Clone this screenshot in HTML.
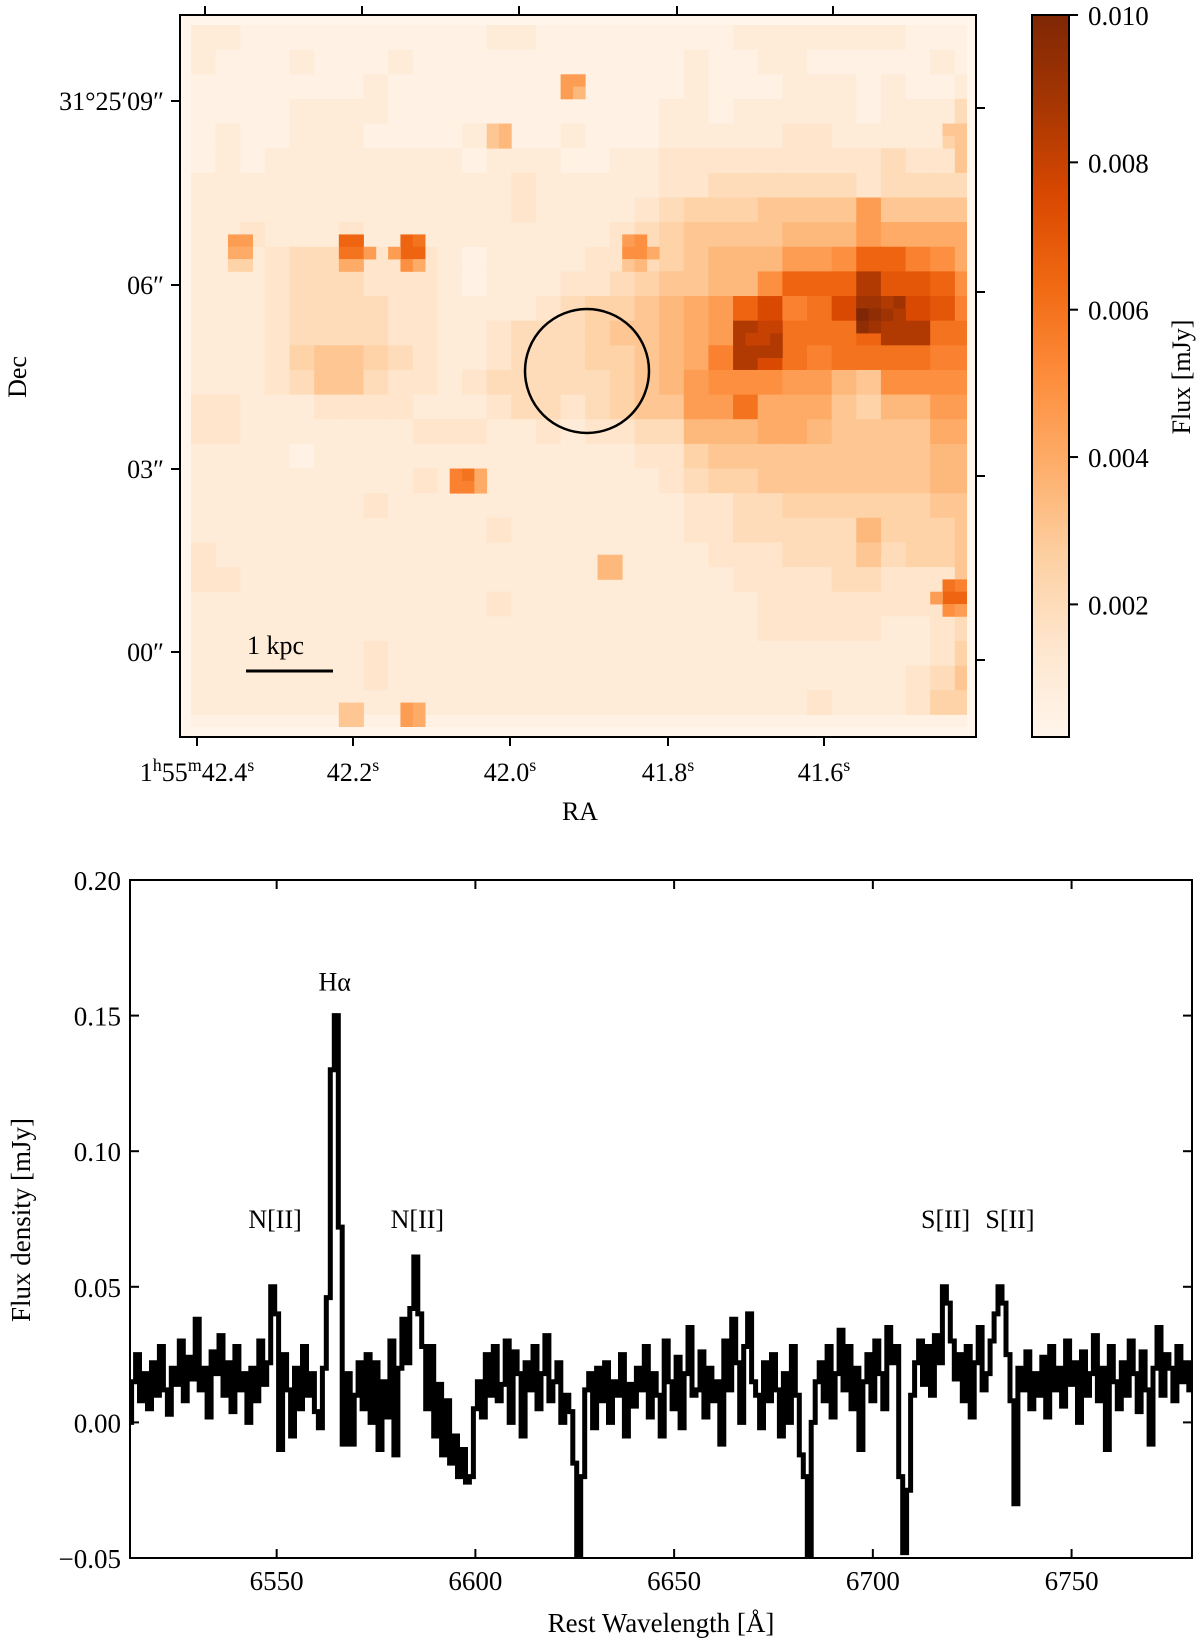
<!DOCTYPE html>
<html><head><meta charset="utf-8"><title>Flux map and spectrum</title>
<style>
html,body{margin:0;padding:0;background:#fff;}
svg{display:block;font-family:"Liberation Serif",serif;}
</style></head>
<body>
<svg id="fig" width="1200" height="1642" viewBox="0 0 1200 1642" xmlns="http://www.w3.org/2000/svg">
<defs>
<clipPath id="mapclip"><rect x="191" y="25" width="776" height="702"/></clipPath>
<clipPath id="specclip"><rect x="130" y="880" width="1062" height="678"/></clipPath>
<linearGradient id="cbgrad" x1="0" y1="1" x2="0" y2="0"></linearGradient>
</defs>
<g id="map">
<rect x="180" y="15" width="796" height="722" fill="#fff5eb"/>
<g id="cells" clip-path="url(#mapclip)"></g>
</g>
<g id="overlay"></g>
</svg>
<script>
// ---------- Heatmap data ----------
// coarse grid: 32 cols x 29 rows, base-20 chars, value = idx * 0.0005 mJy
const mapRows = [
"22111111 11112211 11111122 22222111",
"21112111 21111111 11112112 21111121",
"11111112 11111111 11112111 22212112",
"11112222 11111111 11122122 22212224",
"12112221 11121112 11122222 33222226",
"12122222 22212221 12233333 33334336",
"22222222 22222322 22233444 44434444",
"22222222 22222322 22345556 66696666",
"22322232 22222222 23456666 77798888",
"22234433 33212222 33456777 99addba8",
"22234443 33212223 3456677a dddheeda",
"22234444 33222234 556789df bcfjifeb",
"22234444 33223444 566789hg cccdhhcc",
"22235665 43223444 55678bhf cbccccbb",
"22234664 33234444 45679aaa 9976aaaa",
"33222333 32223443 456699c8 88657799",
"33222222 23332232 33447778 87666688",
"22221222 22222222 22335666 66666677",
"22222222 23222222 22234556 66666677",
"22222223 22222222 22223344 55555566",
"22222222 22223222 22223344 44475556",
"32222222 22222222 22222333 44464556",
"33222222 22222222 22222233 33443336",
"22222222 22223222 22222223 33333334",
"22222222 22222222 22222223 33332234",
"22222223 22222222 22222222 22222235",
"22222223 22222222 22222222 22222346",
"22222222 22222222 22222222 23222355",
"11111111 11111111 11111111 11111111"
];
// fine-pixel bright spots: column index, row index, flux (0.001 mJy)
const spotCols = [3,4,3,4,3,4, 12,13,12,13,14,12,13, 17,18,17,18,16,17,18, 35,36,35,36,37,35,36, 30,31,30,31, 24,25,24,25, 21,22,23,21,22,23, 33,34,33,34, 61,62,61,62,60,61,62, 12,13,12,13,17,18,17,18, 61,62,61,62, 54,55,54,55,54,55,56,57,56, 45,46,45,47,47,47, 54,55];
const spotRows = [17,17,18,18,19,19, 17,17,18,18,18,19,19, 17,17,18,18,18,19,19, 17,17,18,18,18,19,19, 4,4,5,5, 8,8,9,9, 36,36,36,37,37,37, 43,43,44,44, 45,45,46,46,46,47,47, 55,55,56,56,55,55,56,56, 8,8,9,9, 22,22,23,23,24,24,23,23,22, 26,26,25,25,26,24, 42,42];
const spotVals = [4.5,4.5,4,4,2.5,2.5, 6.5,6.5,6,6,4.5,4,4, 6.5,6,6.5,6.5,4.5,5,4, 4.5,5,5,5,4,3,3.5, 4.5,4.5,4.5,3.5, 3,3.5,3,3.5, 5.5,6,4,5.5,5.5,4, 3.5,3.5,3.5,3.5, 6,5.5,6.5,6.5,4.5,5,4.5, 3,3,3,3,4.5,4,4.5,4, 3,3,2.5,3, 9,9,10,9.5,9.5,9,9,8.5,8.5, 8.5,8.5,8,8.5,8.5,8, 3,3];
const cbTicks = [0.002,0.004,0.006,0.008,0.010];
const decTickLabels = ["31°25′09″","06″","03″","00″"];
const raTickLabels = [["1","h","55","m","42.4","s"],["42.2","s"],["42.0","s"],["41.8","s"],["41.6","s"]];

// ---------- Spectrum data ----------
const specStart = 6513; // Å, 1 Å sampling
const fluxE3 = [ // flux density in 0.001 mJy
0,15,25,8,18,5,22,10,28,12,
3,20,14,30,8,24,16,38,12,20,
2,26,18,32,10,22,4,28,12,18,
0,20,8,30,14,22,50,40,-10,25,
12,-5,20,5,28,10,18,4,-2,20,
46,130,150,72,-8,18,-8,10,22,5,
25,0,22,-10,15,2,30,-12,20,38,
22,42,61,40,28,5,28,-5,14,-12,
8,-15,-5,-20,-10,-22,-20,5,15,2,
25,10,28,8,14,30,0,26,18,-5,
22,12,28,5,18,32,8,15,22,0,
10,4,-15,-70,-20,12,18,-2,20,8,
22,0,15,10,25,-5,14,6,20,12,
28,2,18,10,-5,30,15,5,24,-2,
18,35,10,12,26,2,20,8,15,-8,
30,12,38,22,0,28,40,15,10,-2,
22,8,25,12,-5,18,0,28,10,-12,
-20,-70,0,15,22,8,28,2,18,34,
12,28,5,20,-10,15,25,8,30,18,
5,35,22,28,-20,-48,-25,10,22,30,
14,28,10,32,22,50,44,30,16,25,
8,28,2,22,35,12,18,30,40,50,
44,25,8,-30,20,12,26,5,18,10,
24,2,28,12,20,6,30,14,22,0,
26,10,18,32,8,20,-10,28,15,5,
22,10,30,18,4,26,12,-8,20,35,
10,25,20,8,28,15,22,12];
const specYTicks = [-0.05,0.00,0.05,0.10,0.15,0.20];
const specYLabels = ["−0.05","0.00","0.05","0.10","0.15","0.20"];
const specXTicks = [6550,6600,6650,6700,6750];
const lineLabels = ["N[II]","Hα","N[II]","S[II]","S[II]"];
const lineLabelWl = [6549.6,6564.6,6585.4,6718.3,6734.5];
const lineLabelFlux = [0.075,0.1625,0.075,0.075,0.075];

// ---------- helpers ----------
const NS="http://www.w3.org/2000/svg";
const svg=document.getElementById('fig');
const overlay=document.getElementById('overlay');
function mk(tag,attrs,parent){const e=document.createElementNS(NS,tag);for(const k in attrs)e.setAttribute(k,attrs[k]);(parent||overlay).appendChild(e);return e;}
const stops=[[255,245,235],[254,230,206],[253,208,162],[253,174,107],[253,141,60],[241,105,19],[217,72,1],[166,54,3],[127,39,4]];
const VMIN=0.0002,VMAX=0.010;
function cmap(v){let t=(v-VMIN)/(VMAX-VMIN);t=Math.max(0,Math.min(1,t));const p=t*8,i=Math.min(7,Math.floor(p)),f=p-i;const a=stops[i],b=stops[i+1];return `rgb(${Math.round(a[0]+(b[0]-a[0])*f)},${Math.round(a[1]+(b[1]-a[1])*f)},${Math.round(a[2]+(b[2]-a[2])*f)})`;}

// map axes
const MX0=191,MY0=25,FP=12.32;
const cellsG=document.getElementById('cells');
mapRows.forEach((row,r)=>{
  const s=row.replace(/ /g,'');
  for(let c=0;c<s.length;c++){
    const v=parseInt(s[c],20)*0.0005;
    const e=mk('rect',{x:(MX0+c*2*FP).toFixed(2),y:(MY0+r*2*FP).toFixed(2),width:(2*FP+0.6).toFixed(2),height:(2*FP+0.6).toFixed(2),fill:cmap(v)},cellsG);
    
    
  }
});
spotCols.forEach((c,i)=>{
  const e=mk('rect',{x:(MX0+c*FP).toFixed(2),y:(MY0+spotRows[i]*FP).toFixed(2),width:(FP+0.4).toFixed(2),height:(FP+0.4).toFixed(2),fill:cmap(spotVals[i]*0.001)},cellsG);
  
  
});

// map frame
let e;
e=mk('rect',{x:180,y:15,width:796,height:722,fill:'none',stroke:'#000','stroke-width':2});

e=mk('circle',{cx:587,cy:371,r:62,fill:'none',stroke:'#000','stroke-width':2.5});

e=mk('line',{x1:246,y1:671,x2:333,y2:671,stroke:'#000','stroke-width':3});

e=mk('text',{x:247,y:654,'font-size':26});e.textContent='1 kpc';


const decLeft=[101,285,469,652],decRight=[108,292,476,660];
decLeft.forEach((y,i)=>{
  e=mk('line',{x1:171,y1:y,x2:180,y2:y,stroke:'#000','stroke-width':2});
  
  e=mk('line',{x1:976,y1:decRight[i],x2:985,y2:decRight[i],stroke:'#000','stroke-width':2});
  
  e=mk('text',{x:164,y:y+9,'font-size':26,'text-anchor':'end'});e.textContent=decTickLabels[i];
  
});
const raBottom=[197,353,510,668,824],raTop=[205,362,519,677,833];
raBottom.forEach((x,i)=>{
  e=mk('line',{x1:x,y1:737,x2:x,y2:746,stroke:'#000','stroke-width':2});
  
  e=mk('line',{x1:raTop[i],y1:6,x2:raTop[i],y2:15,stroke:'#000','stroke-width':2});
  
  const t=mk('text',{x:x,y:781,'font-size':26,'text-anchor':'middle'});
  
  const parts=raTickLabels[i];
  for(let k=0;k<parts.length;k++){
    const sp=document.createElementNS(NS,'tspan');
    if(k%2===1){sp.setAttribute('font-size','18');sp.setAttribute('dy','-10');}
    else if(k>0){sp.setAttribute('dy','10');}
    sp.textContent=parts[k];t.appendChild(sp);
  }
});
e=mk('text',{x:580,y:820,'font-size':26,'text-anchor':'middle'});e.textContent='RA';

e=mk('text',{x:0,y:0,'font-size':26,'text-anchor':'middle',transform:'translate(26,377) rotate(-90)'});e.textContent='Dec';


// colorbar
const CB_TOP=15,CB_BOT=737,CBX=1032,CBW=37;
function cbY(v){return CB_BOT-(v-VMIN)/(VMAX-VMIN)*(CB_BOT-CB_TOP);}
const grad=document.getElementById('cbgrad');
for(let i=0;i<=8;i++){const s=document.createElementNS(NS,'stop');s.setAttribute('offset',(i/8).toFixed(3));s.setAttribute('stop-color',`rgb(${stops[i].join(',')})`);grad.appendChild(s);}
e=mk('rect',{x:CBX,y:CB_TOP,width:CBW,height:CB_BOT-CB_TOP,fill:'url(#cbgrad)',stroke:'#000','stroke-width':2});

cbTicks.forEach(v=>{
  const y=cbY(v);
  e=mk('line',{x1:CBX+CBW,y1:y,x2:CBX+CBW+9,y2:y,stroke:'#000','stroke-width':2});
  
  e=mk('text',{x:1088,y:y+10,'font-size':27});e.textContent=v.toFixed(3);
  
});
e=mk('text',{x:0,y:0,'font-size':26,'text-anchor':'middle',transform:'translate(1190,377) rotate(-90)'});e.textContent='Flux [mJy]';


// ---------- spectrum ----------
const SL=130,SR=1192,ST=880,SB=1558;
const WL0=6513.1,WL1=6780.3,YMIN=-0.05,YMAX=0.20;
function sx(w){return SL+(w-WL0)/(WL1-WL0)*(SR-SL);}
function sy(v){return SB-(v-YMIN)/(YMAX-YMIN)*(SB-ST);}
let d='';
fluxE3.forEach((f,i)=>{
  const w=specStart+i,y=sy(f*0.001);
  const xa=sx(w-0.5),xb=sx(w+0.5);
  d+=(i===0?'M':'L')+xa.toFixed(1)+','+y.toFixed(1)+'L'+xb.toFixed(1)+','+y.toFixed(1);
});
e=mk('path',{d:d,fill:'none',stroke:'#000','stroke-width':5,'stroke-linejoin':'miter','clip-path':'url(#specclip)'});

e=mk('rect',{x:SL,y:ST,width:SR-SL,height:SB-ST,fill:'none',stroke:'#000','stroke-width':2});

specYTicks.forEach((v,i)=>{
  const y=sy(v);
  e=mk('line',{x1:SL,y1:y,x2:SL+9,y2:y,stroke:'#000','stroke-width':2});
  
  e=mk('line',{x1:SR-9,y1:y,x2:SR,y2:y,stroke:'#000','stroke-width':2});
  
  e=mk('text',{x:121,y:y+10,'font-size':27,'text-anchor':'end'});e.textContent=specYLabels[i];
  
});
specXTicks.forEach(w=>{
  const x=sx(w);
  e=mk('line',{x1:x,y1:SB,x2:x,y2:SB-9,stroke:'#000','stroke-width':2});
  
  e=mk('line',{x1:x,y1:ST,x2:x,y2:ST+9,stroke:'#000','stroke-width':2});
  
  e=mk('text',{x:x,y:1590,'font-size':27,'text-anchor':'middle'});e.textContent=String(w);
  
});
lineLabels.forEach((t,i)=>{
  e=mk('text',{x:sx(lineLabelWl[i]),y:sy(lineLabelFlux[i])+9,'font-size':26,'text-anchor':'middle'});e.textContent=t;
  
});
e=mk('text',{x:661,y:1632,'font-size':27,'text-anchor':'middle'});e.textContent='Rest Wavelength [Å]';

e=mk('text',{x:0,y:0,'font-size':27,'text-anchor':'middle',transform:'translate(30,1220) rotate(-90)'});e.textContent='Flux density [mJy]';

</script>
</body></html>
